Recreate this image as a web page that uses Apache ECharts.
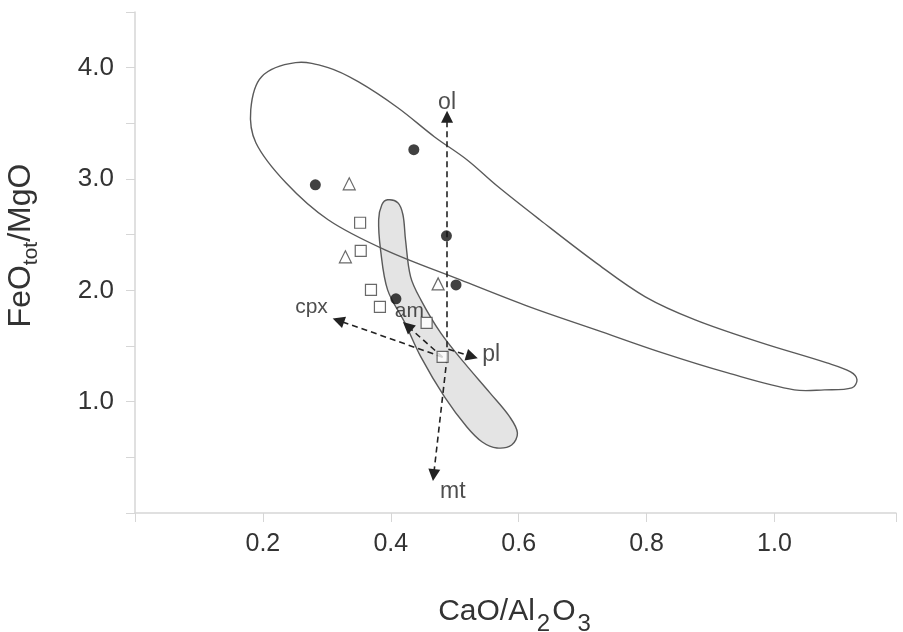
<!DOCTYPE html>
<html>
<head>
<meta charset="utf-8">
<script src="https://cdn.jsdelivr.net/npm/echarts@6/dist/echarts.min.js"></script>
<style>html,body{margin:0;background:#fff}#chart{width:903px;height:632px}</style>
</head>
<body>
<div id="chart"></div>
<script>
// field outlines (CaO/Al2O3, FeOtot/MgO)
const bigField = [
  [0.251, 4.045], [0.302, 4.000], [0.349, 3.874], [0.411, 3.640], [0.468, 3.380],
  [0.519, 3.173], [0.566, 2.939], [0.633, 2.634], [0.721, 2.247], [0.798, 1.942],
  [0.876, 1.735], [0.980, 1.528], [1.082, 1.348], [1.119, 1.267], [1.129, 1.196],
  [1.121, 1.124], [1.078, 1.106], [1.031, 1.106], [0.927, 1.258], [0.825, 1.438],
  [0.721, 1.645], [0.617, 1.852], [0.509, 2.094], [0.391, 2.364], [0.302, 2.634],
  [0.236, 2.966], [0.189, 3.326], [0.181, 3.622], [0.198, 3.919]
]
const greyField = [
  [0.395, 2.813], [0.411, 2.787], [0.419, 2.679], [0.423, 2.454], [0.431, 2.121],
  [0.447, 1.915], [0.478, 1.618], [0.515, 1.348], [0.555, 1.079], [0.586, 0.863],
  [0.598, 0.719], [0.589, 0.611], [0.566, 0.584], [0.543, 0.638], [0.519, 0.773],
  [0.484, 1.043], [0.447, 1.402], [0.422, 1.708], [0.395, 2.004], [0.384, 2.364],
  [0.381, 2.634], [0.386, 2.769]
]

// samples
const circles = [[0.282, 2.948], [0.436, 3.263], [0.487, 2.490], [0.502, 2.049], [0.408, 1.924]]
const triangles = [[0.335, 2.957], [0.329, 2.301], [0.474, 2.058]]
const squares = [[0.352, 2.607], [0.353, 2.355], [0.369, 2.004], [0.383, 1.852], [0.456, 1.708], [0.481, 1.402]]

// fractionation vectors
const vectors = [
  {name: 'ol', from: [0.488, 1.40], to: [0.488, 3.56]},
  {name: 'mt', from: [0.488, 1.40], to: [0.467, 0.34]},
  {name: 'cpx', from: [0.481, 1.40], to: [0.318, 1.73]},
  {name: 'am', from: [0.481, 1.40], to: [0.426, 1.68]},
  {name: 'pl', from: [0.490, 1.47], to: [0.527, 1.405]}
]
const vectorLabels = [
  {name: 'ol', value: [0.488, 3.69], size: 23},
  {name: 'cpx', value: [0.276, 1.85], size: 21},
  {name: 'am', value: [0.429, 1.81], size: 21},
  {name: 'pl', value: [0.557, 1.42], size: 23},
  {name: 'mt', value: [0.497, 0.19], size: 23}
]

const xTicks = [0.2, 0.4, 0.6, 0.8, 1.0]
const yTicks = [1, 2, 3, 4]

const FONT = 'Liberation Sans, Arial, sans-serif'

const polygonSeries = (pts, fill, z) => ({
  type: 'custom',
  data: [0],
  z: z,
  silent: true,
  renderItem: (params, api) => ({
    type: 'polygon',
    shape: {points: pts.map(p => api.coord(p)), smooth: 0.35},
    style: {fill: fill, stroke: '#5a5a5a', lineWidth: 1.4}
  })
})

let option = {
  animation: false,
  grid: {left: 135, right: 7, top: 12, bottom: 119, outerBoundsMode: 'none', containLabel: false},
  xAxis: {
    type: 'value', min: 0, max: 1.19, interval: 0.2,
    name: '{a|CaO/Al}{s|2}{a|O}{s|3}',
    nameLocation: 'middle', nameGap: 84,
    nameTextStyle: {
      rich: {
        a: {fontSize: 30, fontFamily: FONT, color: '#333', lineHeight: 38, verticalAlign: 'top'},
        s: {fontSize: 24, fontFamily: FONT, color: '#333', lineHeight: 38, padding: [15, 2, 0, 2], verticalAlign: 'top'}
      }
    },
    splitLine: {show: false},
    axisLine: {lineStyle: {color: '#d6d6d6', width: 1.5}},
    axisTick: {show: true, length: 9, lineStyle: {color: '#d6d6d6'}},
    axisLabel: {
      margin: 19, fontSize: 25, color: '#333', fontFamily: FONT,
      formatter: v => xTicks.some(t => Math.abs(t - v) < 1e-6) ? v.toFixed(1) : ''
    }
  },
  yAxis: {
    type: 'value', min: 0, max: 4.5, interval: 1,
    name: '{a|FeO}{s|tot}{a|/MgO}',
    nameLocation: 'middle', nameGap: 92, nameRotate: 90,
    nameTextStyle: {
      padding: [0, 0, 0, 34],
      rich: {
        a: {fontSize: 32, fontFamily: FONT, color: '#333', lineHeight: 38, verticalAlign: 'top'},
        s: {fontSize: 21, fontFamily: FONT, color: '#333', lineHeight: 38, padding: [16, 0, 0, 0], verticalAlign: 'top'}
      }
    },
    splitLine: {show: false},
    axisLine: {lineStyle: {color: '#d6d6d6', width: 1.5}},
    axisTick: {show: true, length: 9, lineStyle: {color: '#d6d6d6'}},
    minorTick: {show: true, splitNumber: 2, length: 9, lineStyle: {color: '#d6d6d6'}},
    axisLabel: {
      margin: 21, fontSize: 26, color: '#333', fontFamily: FONT,
      formatter: v => yTicks.indexOf(v) >= 0 ? v.toFixed(1) : ''
    }
  },
  series: [
    polygonSeries(greyField, '#e4e4e4', 1),
    polygonSeries(bigField, 'none', 2),
    {
      type: 'lines',
      coordinateSystem: 'cartesian2d',
      z: 3,
      symbol: ['none', 'triangle'],
      symbolSize: 12,
      lineStyle: {color: '#222', width: 1.6, type: [6, 4], opacity: 1},
      data: vectors.map(v => ({coords: [v.from, v.to]}))
    },
    {
      type: 'scatter', z: 4, symbol: 'circle', symbolSize: 11,
      itemStyle: {color: '#111'},
      data: circles
    },
    {
      type: 'scatter', z: 4, symbol: 'triangle', symbolSize: 12,
      itemStyle: {color: '#fff', borderColor: '#444', borderWidth: 1.2},
      data: triangles
    },
    {
      type: 'scatter', z: 4, symbol: 'rect', symbolSize: 11,
      itemStyle: {color: '#fff', borderColor: '#444', borderWidth: 1.2},
      data: squares
    },
    {
      type: 'scatter', z: 5, symbolSize: 0,
      label: {show: true, position: 'inside', formatter: '{b}', color: '#222', fontFamily: FONT},
      data: vectorLabels.map(d => ({name: d.name, value: d.value, label: {fontSize: d.size}}))
    }
  ]
}

let myChart = echarts.init(document.getElementById('chart'))
myChart.setOption(option)
</script>
</body>
</html>
